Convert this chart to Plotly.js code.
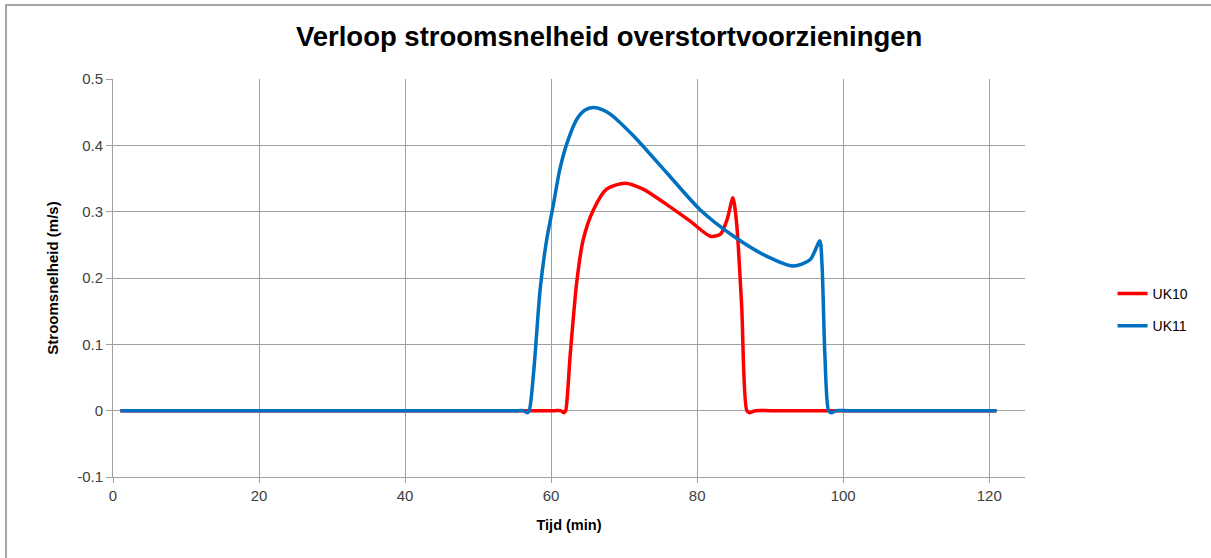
<!DOCTYPE html>
<html>
<head>
<meta charset="utf-8">
<script src="https://cdn.plot.ly/plotly-3.0.1.min.js"></script>
<style>
html,body{margin:0;padding:0;background:#fff;}
#wrap{position:relative;width:1211px;height:558px;overflow:hidden;}
#chart{width:1211px;height:558px;}
#frame{position:absolute;left:5px;top:4px;width:1300px;height:700px;border-left:2px solid #a6a6a6;border-top:2px solid #a6a6a6;pointer-events:none;}
</style>
</head>
<body>
<div id="wrap"><div id="chart"></div><div id="frame"></div></div>
<script>
// UK10 series (time in min, velocity in m/s)
const uk10Time = [1, 10, 20, 30, 40, 50, 55, 59, 60.5, 61.3, 61.8, 62.0, 62.6, 63.5, 64.4, 65.8, 67.6, 70.1, 72.6, 75.8, 79.0, 81.8, 83.2, 84.1, 84.9, 85.4, 86.1, 86.8, 87.2, 88, 90, 95, 100, 105, 110, 115, 121];
const uk10Vel  = [0, 0, 0, 0, 0, 0, 0, 0, 0, 0, -0.003, 0.0, 0.082, 0.193, 0.258, 0.303, 0.334, 0.343, 0.334, 0.311, 0.286, 0.263, 0.266, 0.288, 0.321, 0.283, 0.157, 0.0, -0.003, 0, 0, 0, 0, 0, 0, 0, 0];
// UK11 series
const uk11Time = [1, 10, 20, 30, 40, 50, 54, 55.5, 56.2, 56.7, 57.0, 57.6, 58.5, 59.4, 60.3, 61.2, 62.2, 63.5, 64.6, 65.8, 67.0, 68.1, 71.3, 75.8, 80.4, 85.0, 89.5, 93.2, 95.5, 96.8, 97.1, 97.5, 98.0, 98.4, 99, 100.5, 103, 110, 115, 121];
const uk11Vel  = [0, 0, 0, 0, 0, 0, 0, 0, 0, -0.003, 0.0, 0.057, 0.183, 0.258, 0.31, 0.364, 0.404, 0.439, 0.453, 0.457, 0.454, 0.447, 0.414, 0.359, 0.303, 0.263, 0.233, 0.218, 0.228, 0.256, 0.22, 0.082, 0.0, -0.003, 0, 0, 0, 0, 0, 0];

const seriesNames = ['UK10', 'UK11'];
const xTicks = [0, 20, 40, 60, 80, 100, 120];
const yTicks = [-0.1, 0, 0.1, 0.2, 0.3, 0.4, 0.5];

const traces = [
  {x: uk10Time, y: uk10Vel, name: seriesNames[0], legendgroup: 'a', mode: 'lines', type: 'scatter',
   line: {color: '#FF0000', width: 3.5, shape: 'spline', smoothing: 0.7}},
  {x: uk11Time, y: uk11Vel, name: seriesNames[1], legendgroup: 'b', mode: 'lines', type: 'scatter',
   line: {color: '#0070C0', width: 3.5, shape: 'spline', smoothing: 0.7}}
];

const gridColor = '#a0a0a0';
const layout = {
  width: 1211, height: 558,
  margin: {l: 113, r: 186, t: 79, b: 81, pad: 0},
  paper_bgcolor: '#fff', plot_bgcolor: '#fff',
  font: {family: 'Liberation Sans, Arial, sans-serif', size: 15, color: '#404040'},
  title: {text: '<b>Verloop stroomsnelheid overstortvoorzieningen</b>',
          font: {family: 'Liberation Sans, sans-serif', size: 27.5, color: '#000'},
          x: 0.503, xanchor: 'center', y: 0.935, yanchor: 'middle'},
  xaxis: {range: [0, 124.9], tickvals: xTicks, ticktext: xTicks.map(String),
          showgrid: true, gridcolor: gridColor, gridwidth: 1,
          zeroline: false, showline: true, linecolor: gridColor, linewidth: 1,
          ticks: 'outside', ticklen: 5, tickcolor: gridColor,
          title: {text: '<b>Tijd (min)</b>', font: {size: 14.5, color: '#000'}, standoff: 16},
          tickfont: {size: 15, color: '#404040'}},
  yaxis: {range: [-0.1, 0.5], tickvals: yTicks, ticktext: yTicks.map(v => String(v)),
          showgrid: true, gridcolor: gridColor, gridwidth: 1,
          zeroline: false, showline: true, linecolor: gridColor, linewidth: 1,
          ticks: 'outside', ticklen: 6, tickcolor: gridColor,
          title: {text: '<b>Stroomsnelheid (m/s)</b>', font: {size: 15, color: '#000'}, standoff: 14},
          tickfont: {size: 15, color: '#404040'}},
  legend: {x: 1.096, xanchor: 'left', y: 0.42, yanchor: 'middle', orientation: 'v',
           font: {size: 14, color: '#000'}, tracegroupgap: 11, itemwidth: 30,
           bgcolor: 'rgba(0,0,0,0)'},
  showlegend: true
};

Plotly.newPlot('chart', traces, layout, {displayModeBar: false, staticPlot: true});
</script>
</body>
</html>
